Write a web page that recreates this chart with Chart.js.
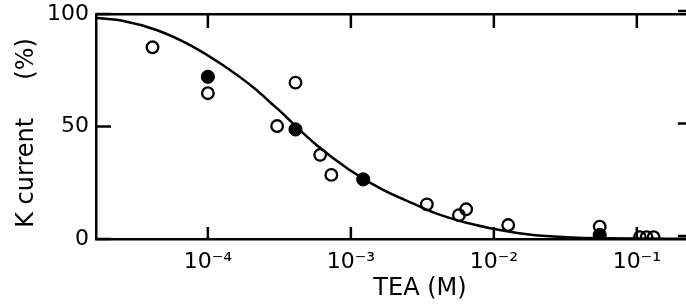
<!DOCTYPE html>
<html>
<head>
<meta charset="utf-8">
<script src="https://cdn.jsdelivr.net/npm/chart.js@4.4.1/dist/chart.umd.min.js"></script>
<style>
	html, body { margin: 0; padding: 0; background: #fff; overflow: hidden; }
	#wrap { position: absolute; left: 0; top: 0; width: 700px; height: 306px; }
</style>
</head>
<body>
<div id="wrap"><canvas id="chart" width="700" height="306"></canvas></div>
<script>
// TEA concentration (M) and K current (%)
var openX = [ 4.1e-5, 1.0e-4, 3.05e-4, 4.1e-4, 6.1e-4, 7.3e-4, 3.4e-3, 5.7e-3, 6.4e-3, 1.26e-2, 5.5e-2, 0.105, 0.117, 0.131 ];
var openY = [ 85.2, 64.8, 50.2, 69.5, 37.4, 28.5, 15.4, 10.6, 13.2, 6.2, 5.5, 0.8, 0.8, 0.8 ];

var filledX = [ 1.0e-4, 4.1e-4, 1.22e-3, 5.5e-2 ];
var filledY = [ 72.1, 48.7, 26.5, 1.8 ];

// fitted curve
var curveX = [ 1.66e-5, 2.57e-5, 4.37e-5, 7.5e-5, 1.27e-4, 2.19e-4, 2.72e-4, 3.37e-4, 4.07e-4, 5.75e-4, 9.8e-4, 1.68e-3, 2.88e-3, 3.77e-3, 6.44e-3, 1.1e-2, 1.88e-2, 3.22e-2, 5.5e-2, 0.243 ];
var curveY = [ 98.2, 96.9, 92.9, 86.2, 77.3, 66.2, 60.8, 55.5, 50.4, 41.8, 30.7, 21.8, 15.1, 11.8, 7.2, 4.0, 1.8, 0.8, 0.3, 0.1 ];

var xTickValues = [ 1e-4, 1e-3, 1e-2, 1e-1 ];
var xTickLabels = [ "10⁻⁴", "10⁻³", "10⁻²", "10⁻¹" ];
var yTickValues = [ 0, 50, 100 ];

var xTitle = "TEA (M)";
var yTitle = "K current     (%)";

var xMin = 1.65e-5, xMax = 0.2427;
var fontFamily = "'DejaVu Sans', 'Liberation Sans', sans-serif";

function pairs( xs, ys ) {
	return xs.map( function( x, i ) { return { x: x, y: ys[ i ] }; } );
}

// inward tick marks on all four sides, plus the axis titles
var frameDeco = {
	id: "frameDeco",
	afterDatasetsDraw: function( chart ) {
		var ctx = chart.ctx,
			area = chart.chartArea,
			xs = chart.scales.x,
			ys = chart.scales.y;

		ctx.save();
		ctx.strokeStyle = "#000";
		ctx.lineWidth = 2.5;
		ctx.beginPath();
		xTickValues.forEach( function( v ) {
			var px = xs.getPixelForValue( v );
			ctx.moveTo( px, area.bottom );
			ctx.lineTo( px, area.bottom - 12 );
			ctx.moveTo( px, area.top );
			ctx.lineTo( px, area.top + 14 );
		} );
		yTickValues.forEach( function( v ) {
			var py = ys.getPixelForValue( v );
			ctx.moveTo( area.left, py );
			ctx.lineTo( area.left + 15, py );
			ctx.moveTo( area.right, py - 3 );
			ctx.lineTo( area.right - 14, py - 3 );
		} );
		ctx.stroke();

		ctx.fillStyle = "#000";
		ctx.font = "24px " + fontFamily;
		ctx.textAlign = "center";
		ctx.textBaseline = "middle";
		ctx.fillText( xTitle, 420, 289 );

		ctx.translate( 27, 133 );
		ctx.rotate( -Math.PI / 2 );
		ctx.fillText( yTitle, 0, 0 );
		ctx.restore();
	}
};

var axisBorder = { display: true, color: "#000", width: 2.5 };

new Chart( document.getElementById( "chart" ), {
	type: "scatter",
	data: {
		datasets: [ {
			type: "line",
			data: pairs( curveX, curveY ),
			borderColor: "#000",
			borderWidth: 2.5,
			pointRadius: 0,
			fill: false,
			cubicInterpolationMode: "monotone"
		}, {
			data: pairs( openX, openY ),
			pointRadius: 5.8,
			pointBorderWidth: 2.3,
			pointBorderColor: "#000",
			pointBackgroundColor: "rgba(0,0,0,0)"
		}, {
			data: pairs( filledX, filledY ),
			pointRadius: 6.6,
			pointBorderWidth: 1,
			pointBorderColor: "#000",
			pointBackgroundColor: "#000"
		} ]
	},
	options: {
		responsive: false,
		animation: false,
		events: [],
		layout: { padding: { top: 14, right: 8, left: 0, bottom: 0 } },
		plugins: { legend: { display: false }, tooltip: { enabled: false } },
		scales: {
			x: {
				type: "logarithmic",
				position: "bottom",
				min: xMin,
				max: xMax,
				afterBuildTicks: function( scale ) {
					scale.ticks = xTickValues.map( function( v ) { return { value: v }; } );
				},
				afterFit: function( scale ) {
					scale.height = 67;
					scale.paddingLeft = 0;
					scale.paddingRight = 0;
				},
				grid: { display: false, drawTicks: false },
				border: axisBorder,
				ticks: {
					autoSkip: false,
					maxRotation: 0,
					padding: 10,
					color: "#000",
					font: { family: fontFamily, size: 22 },
					callback: function( value, index ) { return xTickLabels[ index ]; }
				}
			},
			x2: {
				type: "logarithmic",
				position: "top",
				min: xMin,
				max: xMax,
				afterFit: function( scale ) { scale.height = 0; },
				grid: { display: false, drawTicks: false },
				border: axisBorder,
				ticks: { display: false }
			},
			y: {
				type: "linear",
				position: "left",
				min: 0,
				max: 100,
				afterBuildTicks: function( scale ) {
					scale.ticks = yTickValues.map( function( v ) { return { value: v }; } );
				},
				afterFit: function( scale ) {
					scale.width = 96;
					scale.paddingTop = 0;
					scale.paddingBottom = 0;
				},
				grid: { display: false, drawTicks: false },
				border: axisBorder,
				ticks: {
					padding: 7,
					color: "#000",
					font: { family: fontFamily, size: 22 }
				}
			},
			y2: {
				type: "linear",
				position: "right",
				min: 0,
				max: 100,
				afterFit: function( scale ) { scale.width = 0; },
				grid: { display: false, drawTicks: false },
				border: axisBorder,
				ticks: { display: false }
			}
		}
	},
	plugins: [ frameDeco ]
} );
</script>
</body>
</html>
